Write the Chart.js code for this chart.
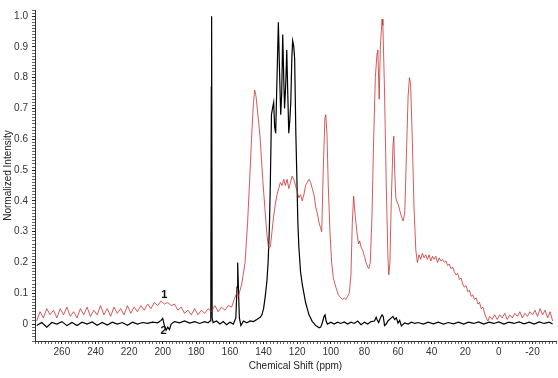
<!DOCTYPE html>
<html>
<head>
<meta charset="utf-8">
<script src="https://cdn.jsdelivr.net/npm/chart.js@4/dist/chart.umd.min.js"></script>
<style>
html,body{margin:0;padding:0;background:#fff;}
#wrap{width:558px;height:378px;}
</style>
</head>
<body>
<div id="wrap"><canvas id="c" width="558" height="378"></canvas></div>
<script>
// Series 1 (red): chemical shift (ppm) and normalized intensity
const ppm1 = [275,273,271,269,267,265,263,261,259,257,255,253,251,249,247,245,243,241,239,237,235,233,231,229,227,225,223,221,219,217,215,213,211,209,207,205,203,201,199,197,195,193,191,189,187,185,183,181,179,177,175,173,171,169,167,165,163,161,159,157.5,156,155,153,151,149.5,148,147,146,145.3,144.5,143,142,140.5,139.4,138,137,136,135,134,133,132,131,130,129,128,127,126,125,124,123,122,121,120,119,118,117,116,115,114,113,112,111,110,109,108,107,106,105.4,104.5,103.5,103,102.3,101.5,100.5,99.5,98.5,97,95.5,94,93,92,91,90,89,88,87.2,86.4,85.6,84.5,83.5,82.8,82,81,80,79,78,77.4,76.5,75.5,74.5,73.5,72.5,72,71.2,70.5,69.5,69,68,67,66,65.5,64.8,64,63,62.5,62,61.3,60.8,60,59,58,57,56,55,54,53.2,52.5,51.5,50.5,49.4,48.5,47.5,46.5,45.5,44.5,43.5,42.5,41.5,40.5,39.5,38.5,37.5,36.5,35.5,34.5,33.5,32.5,31.5,30.5,29.5,28.5,27.5,26.5,25.5,24.5,23.5,22.5,21.5,20.5,19.5,18.5,17.5,16.5,15.5,14.5,13.5,12.5,11.5,10.5,9.5,8.5,7.5,6.5,5.5,4,2.5,1,-0.5,-2,-3.5,-5,-6.5,-8,-9.5,-11,-12.5,-14,-15.5,-17,-18.5,-20,-21.5,-23,-24.5,-26,-27.5,-29,-30.5,-32];
const int1 = [0.01,0.04,0.02,0.05,0.03,0.045,0.02,0.05,0.03,0.055,0.025,0.04,0.02,0.05,0.03,0.055,0.025,0.045,0.03,0.06,0.03,0.05,0.025,0.055,0.035,0.05,0.03,0.06,0.035,0.055,0.04,0.06,0.045,0.065,0.05,0.07,0.06,0.075,0.065,0.07,0.06,0.065,0.045,0.055,0.035,0.045,0.03,0.05,0.03,0.045,0.035,0.05,0.04,0.06,0.04,0.055,0.045,0.06,0.055,0.08,0.1,0.09,0.13,0.2,0.33,0.5,0.62,0.72,0.76,0.74,0.66,0.6,0.47,0.39,0.29,0.245,0.25,0.3,0.35,0.39,0.42,0.44,0.46,0.45,0.47,0.45,0.47,0.44,0.46,0.48,0.47,0.45,0.43,0.41,0.42,0.4,0.42,0.45,0.46,0.47,0.46,0.44,0.42,0.38,0.36,0.33,0.31,0.3,0.5,0.67,0.68,0.62,0.45,0.3,0.2,0.15,0.12,0.095,0.085,0.08,0.085,0.08,0.09,0.1,0.16,0.33,0.415,0.36,0.3,0.26,0.27,0.25,0.24,0.22,0.2,0.185,0.18,0.2,0.35,0.6,0.8,0.88,0.89,0.73,0.9,0.99,0.97,0.75,0.45,0.22,0.16,0.2,0.4,0.58,0.61,0.5,0.41,0.4,0.39,0.37,0.35,0.335,0.36,0.55,0.74,0.8,0.78,0.6,0.38,0.24,0.2,0.225,0.21,0.23,0.215,0.225,0.21,0.225,0.205,0.22,0.21,0.22,0.2,0.215,0.205,0.21,0.2,0.205,0.19,0.195,0.18,0.185,0.17,0.16,0.165,0.145,0.15,0.13,0.12,0.125,0.105,0.11,0.09,0.095,0.08,0.085,0.065,0.07,0.05,0.055,0.035,0.02,0.01,0.025,0.015,0.03,0.015,0.03,0.02,0.035,0.015,0.03,0.02,0.035,0.025,0.04,0.02,0.035,0.025,0.04,0.03,0.045,0.025,0.05,0.03,0.045,0.02,0.04,0.01];

// Series 2 (black)
const ppm2 = [275,272,269,266,263,260,257,254,251,248,245,242,239,236,233,230,227,224,221,218,215,212,209,206,203,201,200,199,198,197,196,195,193,190,187,184,181,178,175,173,172,171.4,171.1,170.9,170.6,170,168,166,164,162,160,158,156.5,155.8,155.4,155,154.4,153.5,152,150,148,146,144,142,141,140,139,138,137.3,136.5,136,135.3,134.7,134,133.4,132.8,132,131.2,130.5,129.8,129.2,128.6,128,127.5,126.8,126.2,125.6,125,124.4,123.8,123.2,122.7,122,121.5,120.8,120.2,119.6,119,118,117,116,115,114,113,112,111,110,109,108,107,106,105,104,103.4,102.8,102,100,98,96,94,92,90,88,86,84,82,80,78,76,74,73,72.5,71.5,70.5,69.5,68.8,68,67,66,64,63,62,61,60,59,58,56,54,52,50,48,45,42,39,36,33,30,27,24,21,18,15,12,9,6,3,0,-3,-6,-9,-12,-15,-18,-21,-24,-27,-30,-32];
const int2 = [-0.005,0.005,-0.01,0.005,0.0,0.008,-0.005,0.005,-0.005,0.006,0.0,0.007,-0.004,0.005,-0.003,0.006,0.0,0.005,-0.004,0.006,0.0,0.005,0.002,0.006,0.004,0.012,0.018,-0.005,-0.02,-0.01,-0.018,0.0,0.008,0.004,0.01,0.003,0.008,0.002,0.008,0.004,0.01,0.01,0.77,1.0,0.02,0.005,0.01,0.0,0.008,-0.002,0.006,0.0,0.02,0.12,0.2,0.12,0.02,-0.005,0.01,0.004,0.01,0.008,0.015,0.022,0.03,0.05,0.09,0.14,0.2,0.32,0.45,0.68,0.7,0.72,0.64,0.62,0.8,0.98,0.82,0.68,0.75,0.94,0.8,0.7,0.78,0.89,0.75,0.62,0.66,0.72,0.86,0.92,0.9,0.86,0.62,0.48,0.33,0.25,0.17,0.13,0.1,0.07,0.05,0.03,0.02,0.008,0.002,-0.005,-0.008,-0.012,-0.01,0.005,0.025,0.03,0.01,0.0,0.006,0.0,0.006,0.002,0.007,0.0,0.006,0.002,0.01,-0.002,0.006,0.0,0.008,0.01,0.022,0.015,0.005,0.02,0.03,0.025,-0.005,0.0,0.01,0.02,0.025,0.015,0.02,0.003,0.012,-0.006,0.004,0.0,0.006,0.002,0.005,0.0,0.006,0.001,0.006,0.0,0.005,0.001,0.006,0.0,0.006,0.002,0.007,0.0,0.006,0.002,0.007,0.0,0.006,0.002,0.007,0.001,0.006,0.0,0.007,0.002,0.006,0.0];

// Curve labels
const curveNames = ['1','2'];
const namePpm = [199, 199.5];
const nameVal = [0.096, -0.022];

const toXY = (xs, ys) => xs.map((x, i) => ({x: x, y: ys[i]}));

const labelPlugin = {
  id: 'curveLabels',
  afterDatasetsDraw(chart) {
    const ctx = chart.ctx, xs = chart.scales.x, ys = chart.scales.y;
    ctx.save();
    ctx.font = 'bold 11px "Liberation Sans", Arial, sans-serif';
    ctx.fillStyle = '#111';
    ctx.textAlign = 'center';
    ctx.textBaseline = 'middle';
    curveNames.forEach((n, i) => {
      ctx.fillText(n, xs.getPixelForValue(namePpm[i]), ys.getPixelForValue(nameVal[i]));
    });
    ctx.restore();
  }
};

const font = {family: '"Liberation Sans", Arial, sans-serif', size: 10};

new Chart(document.getElementById('c'), {
  type: 'line',
  data: {
    datasets: [
      {label: '1', data: toXY(ppm1, int1), borderColor: 'rgba(200,40,40,0.85)', borderWidth: 0.9, pointRadius: 0, tension: 0, fill: false},
      {label: '2', data: toXY(ppm2, int2), borderColor: '#000', borderWidth: 1.2, pointRadius: 0, tension: 0, fill: false}
    ]
  },
  options: {
    responsive: false,
    animation: false,
    events: [],
    layout: {padding: {top: 5, right: 2, left: 0, bottom: 0}},
    plugins: {legend: {display: false}, tooltip: {enabled: false}},
    scales: {
      x: {
        type: 'linear',
        reverse: true,
        min: -34,
        max: 276,
        afterFit: s => { s.height = 37; },
        border: {display: true, color: '#333', width: 1},
        grid: {display: true, drawOnChartArea: false, drawTicks: true, tickLength: 3,
               tickColor: c => (Math.round(c.tick.value) % 20 === 0 ? '#222' : '#666')},
        ticks: {
          stepSize: 2,
          autoSkip: false,
          maxRotation: 0,
          padding: 2,
          color: '#333',
          font: font,
          callback: v => (Math.abs(v % 20) < 1e-6 ? String(v) : '')
        },
        title: {display: true, text: 'Chemical Shift (ppm)', color: '#222', font: font, padding: {top: 0, bottom: 6}}
      },
      y: {
        type: 'linear',
        min: -0.055,
        max: 1.02,
        afterFit: s => { s.width = 35; },
        border: {display: true, color: '#333', width: 1},
        grid: {display: true, drawOnChartArea: false, drawTicks: true, tickLength: 3,
               tickColor: c => (Math.abs(c.tick.value * 10 - Math.round(c.tick.value * 10)) < 1e-6 ? '#222' : '#666')},
        ticks: {
          stepSize: 0.01,
          autoSkip: false,
          padding: 4,
          color: '#333',
          font: font,
          callback: v => {
            const r = Math.round(v * 10);
            if (Math.abs(v * 10 - r) > 1e-6) return '';
            return r === 0 ? '0' : (r / 10).toFixed(1);
          }
        },
        title: {display: true, text: 'Normalized Intensity', color: '#222', font: font, padding: {top: 2, bottom: 0}}
      }
    }
  },
  plugins: [labelPlugin]
});
</script>
</body>
</html>
